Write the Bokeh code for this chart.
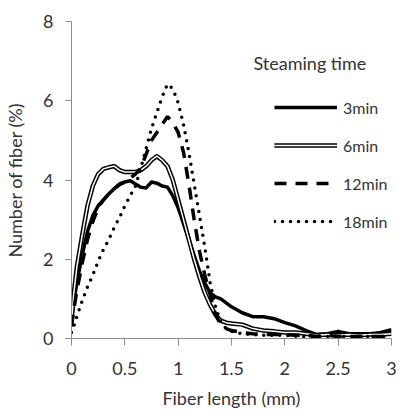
from bokeh.plotting import figure
from bokeh.models import Legend, LegendItem, Label, FixedTicker, Range1d
from bokeh.embed import file_html
from bokeh.resources import INLINE

# ---- data ----
fiber_length = [0, 0.02, 0.05, 0.1, 0.15, 0.2, 0.25, 0.3, 0.35, 0.4, 0.45, 0.5, 0.55, 0.6,
                0.65, 0.7, 0.75, 0.8, 0.85, 0.9, 0.95, 1.0, 1.05, 1.1, 1.15, 1.2, 1.25, 1.3,
                1.35, 1.4, 1.45, 1.5, 1.6, 1.7, 1.8, 1.9, 2.0, 2.1, 2.2, 2.3, 2.4, 2.5, 2.6,
                2.7, 2.8, 2.9, 3.0]

min3 = [0.5, 0.9, 1.4, 2.1, 2.7, 3.1, 3.35, 3.5, 3.65, 3.78, 3.9, 3.95, 3.98, 3.9,
        3.82, 3.8, 3.95, 3.92, 3.85, 3.82, 3.6, 3.3, 2.9, 2.5, 2.1, 1.7, 1.4, 1.15,
        1.05, 1.0, 0.9, 0.8, 0.65, 0.55, 0.55, 0.5, 0.4, 0.32, 0.2, 0.1, 0.12, 0.18, 0.12,
        0.12, 0.12, 0.15, 0.22]

min6 = [0.4, 1.1, 1.8, 2.6, 3.35, 3.85, 4.15, 4.28, 4.32, 4.35, 4.25, 4.2, 4.2, 4.2,
        4.25, 4.35, 4.5, 4.6, 4.5, 4.35, 4.0, 3.5, 3.0, 2.5, 2.0, 1.55, 1.15, 0.85,
        0.6, 0.45, 0.4, 0.38, 0.35, 0.25, 0.2, 0.18, 0.15, 0.15, 0.12, 0.08, 0.1, 0.08, 0.1,
        0.08, 0.1, 0.1, 0.12]

min12 = [0.3, 0.7, 1.2, 1.9, 2.5, 2.95, 3.3, 3.5, 3.65, 3.78, 3.88, 3.95, 4.05, 4.15,
         4.3, 4.65, 5.0, 5.2, 5.4, 5.6, 5.45, 5.2, 4.7, 3.9, 3.0, 2.2, 1.6, 1.1,
         0.6, 0.35, 0.25, 0.2, 0.15, 0.12, 0.1, 0.1, 0.1, 0.08, 0.08, 0.05, 0.08, 0.05, 0.05,
         0.05, 0.05, 0.05, 0.05]

min18 = [0.15, 0.3, 0.55, 0.95, 1.3, 1.6, 1.95, 2.25, 2.5, 2.8, 3.05, 3.35, 3.6, 3.85,
         4.3, 4.8, 5.3, 5.7, 6.1, 6.42, 6.3, 5.95, 5.4, 4.7, 3.9, 3.1, 2.3, 1.4,
         0.8, 0.4, 0.25, 0.18, 0.12, 0.1, 0.08, 0.08, 0.08, 0.06, 0.05, 0.05, 0.05, 0.05, 0.05,
         0.05, 0.05, 0.05, 0.05]

series_labels = ["3min", "6min", "12min", "18min"]
x_ticks = [0, 0.5, 1, 1.5, 2, 2.5, 3]
x_tick_labels = ["0", "0.5", "1", "1.5", "2", "2.5", "3"]
y_ticks = [0, 2, 4, 6, 8]
y_tick_labels = ["0", "2", "4", "6", "8"]

FONT = "Lato"
TXT = "#333333"
AX = "#8c8c8c"

p = figure(width=401, height=413, output_backend="svg", toolbar_location=None,
           x_range=Range1d(0, 3), y_range=Range1d(0, 8),
           min_border_left=71, min_border_right=10, min_border_top=21, min_border_bottom=75)
p.outline_line_color = None
p.grid.visible = False
p.background_fill_color = "white"
p.border_fill_color = "white"

for ax in (p.xaxis[0], p.yaxis[0]):
    ax.axis_line_color = AX
    ax.major_tick_line_color = AX
    ax.minor_tick_line_color = None
    ax.major_tick_in = 0
    ax.major_label_text_font = FONT
    ax.major_label_text_font_size = "18px"
    ax.major_label_text_color = TXT
    ax.axis_label_text_font = FONT
    ax.axis_label_text_font_size = "18px"
    ax.axis_label_text_color = TXT
    ax.axis_label_text_font_style = "normal"

p.xaxis.ticker = FixedTicker(ticks=x_ticks)
p.xaxis.major_label_overrides = dict(zip(x_ticks, x_tick_labels))
p.xaxis.major_tick_out = 7
p.xaxis.major_label_standoff = 16
p.xaxis.axis_label = "Fiber length (mm)"
p.xaxis.axis_label_standoff = 9

p.yaxis.ticker = FixedTicker(ticks=y_ticks)
p.yaxis.major_label_overrides = dict(zip(y_ticks, y_tick_labels))
p.yaxis.major_tick_out = 6
p.yaxis.major_label_standoff = 12
p.yaxis.axis_label = "Number of fiber (%)"
p.yaxis.axis_label_standoff = 14

r3 = p.line(fiber_length, min3, line_color="black", line_width=3.5, line_join="round")
r6a = p.line(fiber_length, min6, line_color="black", line_width=4.5, line_join="round")
r6b = p.line(fiber_length, min6, line_color="white", line_width=1.5, line_join="round")
r12 = p.line(fiber_length, min12, line_color="black", line_width=3.5, line_dash="12 9")
r18 = p.line(fiber_length, min18, line_color="black", line_width=3.5, line_dash="0 8",
             line_cap="round")

legend = Legend(items=[
    LegendItem(label=series_labels[0], renderers=[r3]),
    LegendItem(label=series_labels[1], renderers=[r6a, r6b]),
    LegendItem(label=series_labels[2], renderers=[r12]),
    LegendItem(label=series_labels[3], renderers=[r18]),
], location=(203, 107))
legend.border_line_color = None
legend.background_fill_alpha = 0
legend.padding = 0
legend.margin = 0
legend.glyph_width = 63
legend.glyph_height = 20
legend.spacing = 18
legend.label_standoff = 6
legend.label_text_font = FONT
legend.label_text_font_size = "16px"
legend.label_text_color = TXT
legend.label_height = 20
legend.label_width = 46
p.add_layout(legend)

title = Label(x=182, y=276, x_units="screen", y_units="screen", text="Steaming time",
              text_font=FONT, text_font_size="18px", text_color=TXT, text_baseline="middle")
p.add_layout(title)

open("out.html", "w").write(file_html(p, INLINE))
